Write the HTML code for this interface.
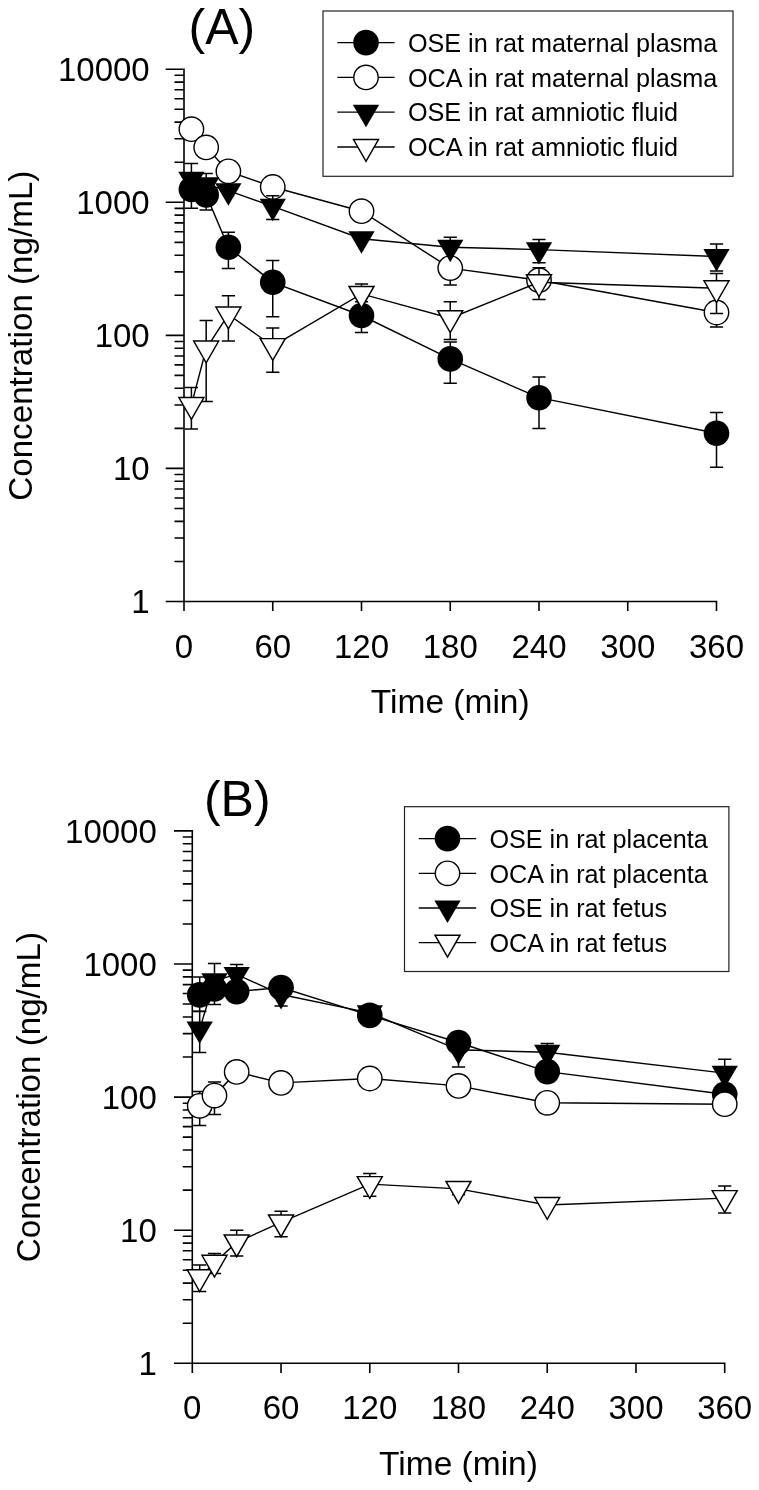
<!DOCTYPE html><html><head><meta charset="utf-8"><style>html,body{margin:0;padding:0;background:#fff;}svg{display:block;filter:grayscale(1);}</style></head><body>
<svg width="759" height="1490" viewBox="0 0 759 1490" font-family='"Liberation Sans", sans-serif'>
<rect width="759" height="1490" fill="#fff"/>
<path d="M184 68.4V601.5M184 601.5H717.3M165.7 69.2H184M165.7 202.27H184M165.7 335.35H184M165.7 468.42H184M165.7 601.5H184M174.5 561.44H184M174.5 538.01H184M174.5 521.38H184M174.5 508.48H184M174.5 497.95H184M174.5 489.04H184M174.5 481.32H184M174.5 474.51H184M174.5 428.37H184M174.5 404.93H184M174.5 388.31H184M174.5 375.41H184M174.5 364.87H184M174.5 355.96H184M174.5 348.25H184M174.5 341.44H184M174.5 295.29H184M174.5 271.86H184M174.5 255.23H184M174.5 242.33H184M174.5 231.8H184M174.5 222.89H184M174.5 215.17H184M174.5 208.36H184M174.5 162.22H184M174.5 138.78H184M174.5 122.16H184M174.5 109.26H184M174.5 98.72H184M174.5 89.81H184M174.5 82.1H184M174.5 75.29H184M184 601.5V611.1M272.75 601.5V611.1M361.5 601.5V611.1M450.25 601.5V611.1M539 601.5V611.1M627.75 601.5V611.1M716.5 601.5V611.1" stroke="#000" stroke-width="1.6" fill="none"/>
<text x="149.7" y="81.1" text-anchor="end" font-size="33">10000</text>
<text x="149.7" y="214.17" text-anchor="end" font-size="33">1000</text>
<text x="149.7" y="347.25" text-anchor="end" font-size="33">100</text>
<text x="149.7" y="480.32" text-anchor="end" font-size="33">10</text>
<text x="149.7" y="613.4" text-anchor="end" font-size="33">1</text>
<text x="184" y="657.6" text-anchor="middle" font-size="33">0</text>
<text x="272.75" y="657.6" text-anchor="middle" font-size="33">60</text>
<text x="361.5" y="657.6" text-anchor="middle" font-size="33">120</text>
<text x="450.25" y="657.6" text-anchor="middle" font-size="33">180</text>
<text x="539" y="657.6" text-anchor="middle" font-size="33">240</text>
<text x="627.75" y="657.6" text-anchor="middle" font-size="33">300</text>
<text x="716.5" y="657.6" text-anchor="middle" font-size="33">360</text>
<text x="450.25" y="713.2" text-anchor="middle" font-size="33.5">Time (min)</text>
<text transform="translate(32 335.7) rotate(-90)" text-anchor="middle" font-size="33.2">Concentration (ng/mL)</text>
<text x="188.6" y="43.7" font-size="50">(A)</text>
<path d="M191.4 189.4L206.19 194.9L228.38 247.3L272.75 282.3L361.5 315.5L450.25 358.9L539 397.7L716.5 433.2" stroke="#000" stroke-width="1.4" fill="none"/>
<path d="M191.4 189.4V176M184.8 176H198M191.4 189.4V208.2M184.8 208.2H198M206.19 194.9V180M199.59 180H212.79M206.19 194.9V210M199.59 210H212.79M228.38 247.3V232.3M221.78 232.3H234.97M228.38 247.3V268.4M221.78 268.4H234.97M272.75 282.3V260.5M266.15 260.5H279.35M272.75 282.3V316.8M266.15 316.8H279.35M361.5 315.5V301.8M354.9 301.8H368.1M361.5 315.5V332.4M354.9 332.4H368.1M450.25 358.9V341.9M443.65 341.9H456.85M450.25 358.9V383.2M443.65 383.2H456.85M539 397.7V377.1M532.4 377.1H545.6M539 397.7V428.5M532.4 428.5H545.6M716.5 433.2V412.4M709.9 412.4H723.1M716.5 433.2V467.3M709.9 467.3H723.1" stroke="#000" stroke-width="1.5" fill="none"/>
<circle cx="191.4" cy="189.4" r="12.8" fill="#000"/>
<circle cx="206.19" cy="194.9" r="12.8" fill="#000"/>
<circle cx="228.38" cy="247.3" r="12.8" fill="#000"/>
<circle cx="272.75" cy="282.3" r="12.8" fill="#000"/>
<circle cx="361.5" cy="315.5" r="12.8" fill="#000"/>
<circle cx="450.25" cy="358.9" r="12.8" fill="#000"/>
<circle cx="539" cy="397.7" r="12.8" fill="#000"/>
<circle cx="716.5" cy="433.2" r="12.8" fill="#000"/>
<path d="M191.4 129.2L206.19 147.4L228.38 171.3L272.75 187L361.5 211.2L450.25 268.1L539 280.2L716.5 312.5" stroke="#000" stroke-width="1.4" fill="none"/>
<path d="M450.25 268.1V285M443.65 285H456.85M716.5 312.5V327M709.9 327H723.1" stroke="#000" stroke-width="1.5" fill="none"/>
<circle cx="191.4" cy="129.2" r="12.2" fill="#fff" stroke="#000" stroke-width="1.4"/>
<circle cx="206.19" cy="147.4" r="12.2" fill="#fff" stroke="#000" stroke-width="1.4"/>
<circle cx="228.38" cy="171.3" r="12.2" fill="#fff" stroke="#000" stroke-width="1.4"/>
<circle cx="272.75" cy="187" r="12.2" fill="#fff" stroke="#000" stroke-width="1.4"/>
<circle cx="361.5" cy="211.2" r="12.2" fill="#fff" stroke="#000" stroke-width="1.4"/>
<circle cx="450.25" cy="268.1" r="12.2" fill="#fff" stroke="#000" stroke-width="1.4"/>
<circle cx="539" cy="280.2" r="12.2" fill="#fff" stroke="#000" stroke-width="1.4"/>
<circle cx="716.5" cy="312.5" r="12.2" fill="#fff" stroke="#000" stroke-width="1.4"/>
<path d="M191.4 179.1L206.19 184.7L228.38 190.7L272.75 206.3L361.5 238.7L450.25 247.2L539 249.6L716.5 256.5" stroke="#000" stroke-width="1.4" fill="none"/>
<path d="M191.4 179.1V163.5M184.8 163.5H198M206.19 184.7V173.4M199.59 173.4H212.79M272.75 206.3V195.8M266.15 195.8H279.35M272.75 206.3V219.6M266.15 219.6H279.35M450.25 247.2V237.3M443.65 237.3H456.85M539 249.6V239.4M532.4 239.4H545.6M539 249.6V262.7M532.4 262.7H545.6M716.5 256.5V243.9M709.9 243.9H723.1M716.5 256.5V270.9M709.9 270.9H723.1" stroke="#000" stroke-width="1.5" fill="none"/>
<path d="M178.25 171.65L204.55 171.65L191.4 194.05Z" fill="#000"/>
<path d="M193.04 177.25L219.34 177.25L206.19 199.65Z" fill="#000"/>
<path d="M215.22 183.25L241.53 183.25L228.38 205.65Z" fill="#000"/>
<path d="M259.6 198.85L285.9 198.85L272.75 221.25Z" fill="#000"/>
<path d="M348.35 231.25L374.65 231.25L361.5 253.65Z" fill="#000"/>
<path d="M437.1 239.75L463.4 239.75L450.25 262.15Z" fill="#000"/>
<path d="M525.85 242.15L552.15 242.15L539 264.55Z" fill="#000"/>
<path d="M703.35 249.05L729.65 249.05L716.5 271.45Z" fill="#000"/>
<path d="M191.4 405L206.19 348.5L228.38 314.5L272.75 346.1L361.5 293.9L450.25 318.2L539 282.3L716.5 288.3" stroke="#000" stroke-width="1.4" fill="none"/>
<path d="M191.4 405V387.6M184.8 387.6H198M191.4 405V428.9M184.8 428.9H198M206.19 348.5V320.4M199.59 320.4H212.79M206.19 348.5V401.4M199.59 401.4H212.79M228.38 314.5V295.7M221.78 295.7H234.97M228.38 314.5V341M221.78 341H234.97M272.75 346.1V327.9M266.15 327.9H279.35M272.75 346.1V372.2M266.15 372.2H279.35M361.5 293.9V283.9M354.9 283.9H368.1M450.25 318.2V301.8M443.65 301.8H456.85M450.25 318.2V339.6M443.65 339.6H456.85M539 282.3V267.8M532.4 267.8H545.6M539 282.3V299.6M532.4 299.6H545.6M716.5 288.3V273.4M709.9 273.4H723.1M716.5 288.3V313.6M709.9 313.6H723.1" stroke="#000" stroke-width="1.5" fill="none"/>
<path d="M178.9 397.5L203.9 397.5L191.4 419.3Z" fill="#fff" stroke="#000" stroke-width="1.45" stroke-miterlimit="10"/>
<path d="M193.69 341L218.69 341L206.19 362.8Z" fill="#fff" stroke="#000" stroke-width="1.45" stroke-miterlimit="10"/>
<path d="M215.88 307L240.88 307L228.38 328.8Z" fill="#fff" stroke="#000" stroke-width="1.45" stroke-miterlimit="10"/>
<path d="M260.25 338.6L285.25 338.6L272.75 360.4Z" fill="#fff" stroke="#000" stroke-width="1.45" stroke-miterlimit="10"/>
<path d="M349 286.4L374 286.4L361.5 308.2Z" fill="#fff" stroke="#000" stroke-width="1.45" stroke-miterlimit="10"/>
<path d="M437.75 310.7L462.75 310.7L450.25 332.5Z" fill="#fff" stroke="#000" stroke-width="1.45" stroke-miterlimit="10"/>
<path d="M526.5 274.8L551.5 274.8L539 296.6Z" fill="#fff" stroke="#000" stroke-width="1.45" stroke-miterlimit="10"/>
<path d="M704 280.8L729 280.8L716.5 302.6Z" fill="#fff" stroke="#000" stroke-width="1.45" stroke-miterlimit="10"/>
<rect x="323" y="11" width="410" height="165.3" fill="none" stroke="#222" stroke-width="1.2"/>
<path d="M337.3 42.6H394.7" stroke="#000" stroke-width="1.3"/>
<circle cx="366" cy="42.6" r="12.8" fill="#000"/>
<text x="407.9" y="51.8" font-size="25.2">OSE in rat maternal plasma</text>
<path d="M337.3 77.4H394.7" stroke="#000" stroke-width="1.3"/>
<circle cx="366" cy="77.4" r="12.2" fill="#fff" stroke="#000" stroke-width="1.4"/>
<text x="407.9" y="86.6" font-size="25.2">OCA in rat maternal plasma</text>
<path d="M337.3 112.2H394.7" stroke="#000" stroke-width="1.3"/>
<path d="M352.85 104.75L379.15 104.75L366 127.15Z" fill="#000"/>
<text x="407.9" y="121.4" font-size="25.2">OSE in rat amniotic fluid</text>
<path d="M337.3 147H394.7" stroke="#000" stroke-width="1.3"/>
<path d="M353.5 139.5L378.5 139.5L366 161.3Z" fill="#fff" stroke="#000" stroke-width="1.45" stroke-miterlimit="10"/>
<text x="407.9" y="156.2" font-size="25.2">OCA in rat amniotic fluid</text>
<path d="M192.3 830.1V1363.3M192.3 1363.3H725.5M174 830.9H192.3M174 964H192.3M174 1097.1H192.3M174 1230.2H192.3M174 1363.3H192.3M182.8 1323.23H192.3M182.8 1299.8H192.3M182.8 1283.17H192.3M182.8 1270.27H192.3M182.8 1259.73H192.3M182.8 1250.82H192.3M182.8 1243.1H192.3M182.8 1236.29H192.3M182.8 1190.13H192.3M182.8 1166.7H192.3M182.8 1150.07H192.3M182.8 1137.17H192.3M182.8 1126.63H192.3M182.8 1117.72H192.3M182.8 1110H192.3M182.8 1103.19H192.3M182.8 1057.03H192.3M182.8 1033.6H192.3M182.8 1016.97H192.3M182.8 1004.07H192.3M182.8 993.53H192.3M182.8 984.62H192.3M182.8 976.9H192.3M182.8 970.09H192.3M182.8 923.93H192.3M182.8 900.5H192.3M182.8 883.87H192.3M182.8 870.97H192.3M182.8 860.43H192.3M182.8 851.52H192.3M182.8 843.8H192.3M182.8 836.99H192.3M192.3 1363.3V1372.9M281.03 1363.3V1372.9M369.77 1363.3V1372.9M458.5 1363.3V1372.9M547.23 1363.3V1372.9M635.97 1363.3V1372.9M724.7 1363.3V1372.9" stroke="#000" stroke-width="1.6" fill="none"/>
<text x="156.8" y="842.8" text-anchor="end" font-size="33">10000</text>
<text x="156.8" y="975.9" text-anchor="end" font-size="33">1000</text>
<text x="156.8" y="1109" text-anchor="end" font-size="33">100</text>
<text x="156.8" y="1242.1" text-anchor="end" font-size="33">10</text>
<text x="156.8" y="1375.2" text-anchor="end" font-size="33">1</text>
<text x="192.3" y="1419.2" text-anchor="middle" font-size="33">0</text>
<text x="281.03" y="1419.2" text-anchor="middle" font-size="33">60</text>
<text x="369.77" y="1419.2" text-anchor="middle" font-size="33">120</text>
<text x="458.5" y="1419.2" text-anchor="middle" font-size="33">180</text>
<text x="547.23" y="1419.2" text-anchor="middle" font-size="33">240</text>
<text x="635.97" y="1419.2" text-anchor="middle" font-size="33">300</text>
<text x="724.7" y="1419.2" text-anchor="middle" font-size="33">360</text>
<text x="458.5" y="1475.3" text-anchor="middle" font-size="33.5">Time (min)</text>
<text transform="translate(40.2 1097.1) rotate(-90)" text-anchor="middle" font-size="33.2">Concentration (ng/mL)</text>
<text x="203.9" y="815.7" font-size="50">(B)</text>
<path d="M199.69 994.85L214.48 988.9L236.67 991.6L281.03 987.5L369.77 1015.4L458.5 1042.5L547.23 1071.6L724.7 1094.3" stroke="#000" stroke-width="1.4" fill="none"/>
<path d="M199.69 994.85V977M193.09 977H206.29M199.69 994.85V1011.3M193.09 1011.3H206.29M214.48 988.9V1004.4M207.88 1004.4H221.08" stroke="#000" stroke-width="1.5" fill="none"/>
<circle cx="199.69" cy="994.85" r="12.8" fill="#000"/>
<circle cx="214.48" cy="988.9" r="12.8" fill="#000"/>
<circle cx="236.67" cy="991.6" r="12.8" fill="#000"/>
<circle cx="281.03" cy="987.5" r="12.8" fill="#000"/>
<circle cx="369.77" cy="1015.4" r="12.8" fill="#000"/>
<circle cx="458.5" cy="1042.5" r="12.8" fill="#000"/>
<circle cx="547.23" cy="1071.6" r="12.8" fill="#000"/>
<circle cx="724.7" cy="1094.3" r="12.8" fill="#000"/>
<path d="M199.69 1105.8L214.48 1095.6L236.67 1071.9L281.03 1082.9L369.77 1078.5L458.5 1085.9L547.23 1102.8L724.7 1104.2" stroke="#000" stroke-width="1.4" fill="none"/>
<path d="M199.69 1105.8V1091.6M193.09 1091.6H206.29M199.69 1105.8V1125.6M193.09 1125.6H206.29M214.48 1095.6V1082.1M207.88 1082.1H221.08M214.48 1095.6V1114.5M207.88 1114.5H221.08" stroke="#000" stroke-width="1.5" fill="none"/>
<circle cx="199.69" cy="1105.8" r="12.2" fill="#fff" stroke="#000" stroke-width="1.4"/>
<circle cx="214.48" cy="1095.6" r="12.2" fill="#fff" stroke="#000" stroke-width="1.4"/>
<circle cx="236.67" cy="1071.9" r="12.2" fill="#fff" stroke="#000" stroke-width="1.4"/>
<circle cx="281.03" cy="1082.9" r="12.2" fill="#fff" stroke="#000" stroke-width="1.4"/>
<circle cx="369.77" cy="1078.5" r="12.2" fill="#fff" stroke="#000" stroke-width="1.4"/>
<circle cx="458.5" cy="1085.9" r="12.2" fill="#fff" stroke="#000" stroke-width="1.4"/>
<circle cx="547.23" cy="1102.8" r="12.2" fill="#fff" stroke="#000" stroke-width="1.4"/>
<circle cx="724.7" cy="1104.2" r="12.2" fill="#fff" stroke="#000" stroke-width="1.4"/>
<path d="M199.69 1028.9L214.48 980.6L236.67 974.4L281.03 994.5L369.77 1012.8L458.5 1049.8L547.23 1052.3L724.7 1073.1" stroke="#000" stroke-width="1.4" fill="none"/>
<path d="M199.69 1028.9V1011.4M193.09 1011.4H206.29M199.69 1028.9V1052.4M193.09 1052.4H206.29M214.48 980.6V963.6M207.88 963.6H221.08M236.67 974.4V964.6M230.07 964.6H243.27M281.03 994.5V1005.9M274.43 1005.9H287.63M458.5 1049.8V1066.9M451.9 1066.9H465.1M547.23 1052.3V1043.5M540.63 1043.5H553.83M724.7 1073.1V1059.3M718.1 1059.3H731.3" stroke="#000" stroke-width="1.5" fill="none"/>
<path d="M186.54 1021.45L212.84 1021.45L199.69 1043.85Z" fill="#000"/>
<path d="M201.33 973.15L227.63 973.15L214.48 995.55Z" fill="#000"/>
<path d="M223.52 966.95L249.82 966.95L236.67 989.35Z" fill="#000"/>
<path d="M267.88 987.05L294.18 987.05L281.03 1009.45Z" fill="#000"/>
<path d="M356.62 1005.35L382.92 1005.35L369.77 1027.75Z" fill="#000"/>
<path d="M445.35 1042.35L471.65 1042.35L458.5 1064.75Z" fill="#000"/>
<path d="M534.08 1044.85L560.38 1044.85L547.23 1067.25Z" fill="#000"/>
<path d="M711.55 1065.65L737.85 1065.65L724.7 1088.05Z" fill="#000"/>
<path d="M199.69 1277.2L214.48 1262.8L236.67 1242.4L281.03 1222.4L369.77 1184.1L458.5 1188.9L547.23 1205L724.7 1198.1" stroke="#000" stroke-width="1.4" fill="none"/>
<path d="M199.69 1277.2V1265.1M193.09 1265.1H206.29M199.69 1277.2V1291.4M193.09 1291.4H206.29M214.48 1262.8V1253.4M207.88 1253.4H221.08M214.48 1262.8V1273.5M207.88 1273.5H221.08M236.67 1242.4V1230.2M230.07 1230.2H243.27M236.67 1242.4V1256.1M230.07 1256.1H243.27M281.03 1222.4V1211.2M274.43 1211.2H287.63M281.03 1222.4V1236.7M274.43 1236.7H287.63M369.77 1184.1V1173.5M363.17 1173.5H376.37M369.77 1184.1V1196.3M363.17 1196.3H376.37M458.5 1188.9V1194.7M451.9 1194.7H465.1M724.7 1198.1V1186.1M718.1 1186.1H731.3M724.7 1198.1V1212.9M718.1 1212.9H731.3" stroke="#000" stroke-width="1.5" fill="none"/>
<path d="M187.19 1269.7L212.19 1269.7L199.69 1291.5Z" fill="#fff" stroke="#000" stroke-width="1.45" stroke-miterlimit="10"/>
<path d="M201.98 1255.3L226.98 1255.3L214.48 1277.1Z" fill="#fff" stroke="#000" stroke-width="1.45" stroke-miterlimit="10"/>
<path d="M224.17 1234.9L249.17 1234.9L236.67 1256.7Z" fill="#fff" stroke="#000" stroke-width="1.45" stroke-miterlimit="10"/>
<path d="M268.53 1214.9L293.53 1214.9L281.03 1236.7Z" fill="#fff" stroke="#000" stroke-width="1.45" stroke-miterlimit="10"/>
<path d="M357.27 1176.6L382.27 1176.6L369.77 1198.4Z" fill="#fff" stroke="#000" stroke-width="1.45" stroke-miterlimit="10"/>
<path d="M446 1181.4L471 1181.4L458.5 1203.2Z" fill="#fff" stroke="#000" stroke-width="1.45" stroke-miterlimit="10"/>
<path d="M534.73 1197.5L559.73 1197.5L547.23 1219.3Z" fill="#fff" stroke="#000" stroke-width="1.45" stroke-miterlimit="10"/>
<path d="M712.2 1190.6L737.2 1190.6L724.7 1212.4Z" fill="#fff" stroke="#000" stroke-width="1.45" stroke-miterlimit="10"/>
<rect x="404.5" y="806.7" width="324.4" height="164.8" fill="none" stroke="#222" stroke-width="1.2"/>
<path d="M418.8 838.6H476.2" stroke="#000" stroke-width="1.3"/>
<circle cx="447.5" cy="838.6" r="12.8" fill="#000"/>
<text x="489.4" y="847.8" font-size="25.2">OSE in rat placenta</text>
<path d="M418.8 873.3H476.2" stroke="#000" stroke-width="1.3"/>
<circle cx="447.5" cy="873.3" r="12.2" fill="#fff" stroke="#000" stroke-width="1.4"/>
<text x="489.4" y="882.5" font-size="25.2">OCA in rat placenta</text>
<path d="M418.8 908H476.2" stroke="#000" stroke-width="1.3"/>
<path d="M434.35 900.55L460.65 900.55L447.5 922.95Z" fill="#000"/>
<text x="489.4" y="917.2" font-size="25.2">OSE in rat fetus</text>
<path d="M418.8 942.7H476.2" stroke="#000" stroke-width="1.3"/>
<path d="M435 935.2L460 935.2L447.5 957Z" fill="#fff" stroke="#000" stroke-width="1.45" stroke-miterlimit="10"/>
<text x="489.4" y="951.9" font-size="25.2">OCA in rat fetus</text>
</svg></body></html>
